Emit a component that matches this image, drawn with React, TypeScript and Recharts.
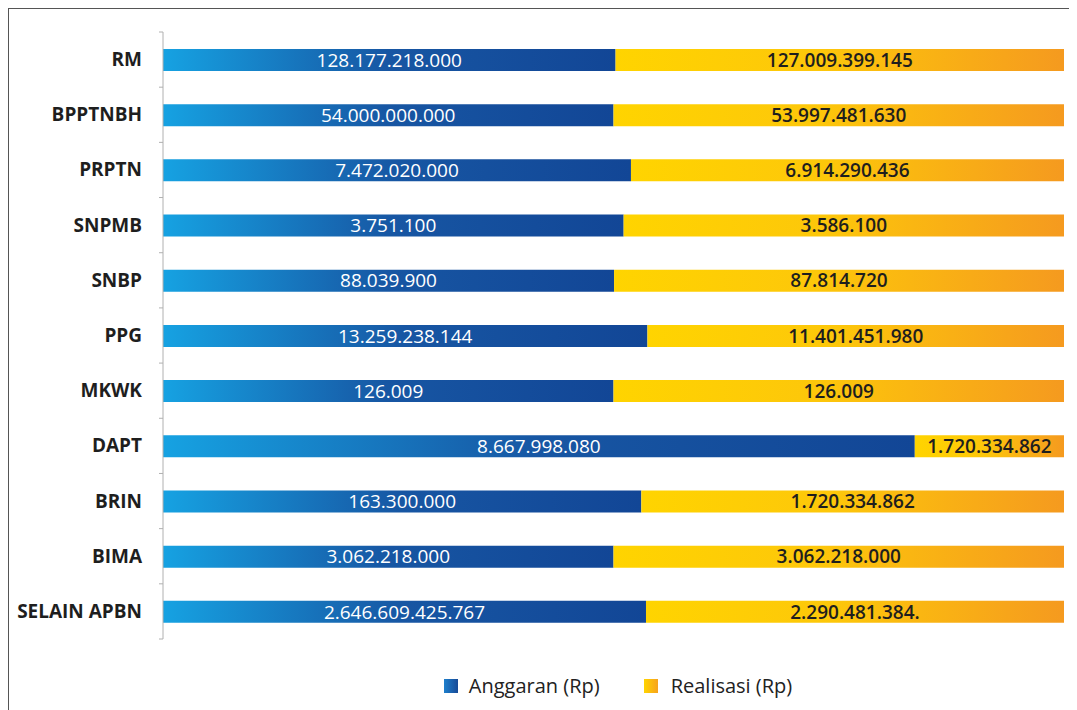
import React from "react";
import { BarChart, Bar, XAxis, YAxis, Legend, LabelList } from "recharts";

const categories = ["RM", "BPPTNBH", "PRPTN", "SNPMB", "SNBP", "PPG", "MKWK", "DAPT", "BRIN", "BIMA", "SELAIN APBN"];
const anggaran = [128177218000, 54000000000, 7472020000, 3751100, 88039900, 13259238144, 126009, 8667998080, 163300000, 3062218000, 2646609425767];
const realisasi = [127009399145, 53997481630, 6914290436, 3586100, 87814720, 11401451980, 126009, 1720334862, 144300000, 3062218000, 2290481384000];
const anggaranLabels = ["128.177.218.000", "54.000.000.000", "7.472.020.000", "3.751.100", "88.039.900", "13.259.238.144", "126.009", "8.667.998.080", "163.300.000", "3.062.218.000", "2.646.609.425.767"];
const realisasiLabels = ["127.009.399.145", "53.997.481.630", "6.914.290.436", "3.586.100", "87.814.720", "11.401.451.980", "126.009", "1.720.334.862", "1.720.334.862", "3.062.218.000", "2.290.481.384."];
const seriesNames = ["Anggaran (Rp)", "Realisasi (Rp)"];

const data = categories.map((name, i) => ({
  name,
  anggaran: anggaran[i],
  realisasi: realisasi[i],
  aLabel: anggaranLabels[i],
  rLabel: realisasiLabels[i],
}));

const FONT = "'Open Sans', sans-serif";

const CategoryTick = (props: any) => {
  const { x, y, payload, index } = props;
  const half = payload && typeof payload.offset === "number" ? payload.offset : 0;
  const axisX = x + 21;
  return (
    <g>
      <line x1={axisX - 4} x2={axisX} y1={y - half} y2={y - half} stroke="#b0b0b0" strokeWidth={1} />
      {index === categories.length - 1 && (
        <line x1={axisX - 4} x2={axisX} y1={y + half} y2={y + half} stroke="#b0b0b0" strokeWidth={1} />
      )}
      <text x={x} y={y} dy={6.5} textAnchor="end" fill="#1e1e1e" fontFamily={FONT} fontWeight={700} fontSize={19}>
        {payload.value}
      </text>
    </g>
  );
};

const LegendContent = () => (
  <div style={{ height: 60, paddingTop: 34, boxSizing: "border-box", display: "flex", justifyContent: "center", alignItems: "center", fontFamily: FONT, fontSize: 20, color: "#222" }}>
    <div style={{ display: "flex", alignItems: "center", height: 20 }}>
      <span style={{ width: 14, height: 14, background: "linear-gradient(to right, #1e7fcc, #174a97)", display: "inline-block", marginRight: 11 }} />
      <span>{seriesNames[0]}</span>
    </div>
    <div style={{ display: "flex", alignItems: "center", height: 20, marginLeft: 44 }}>
      <span style={{ width: 14, height: 14, background: "linear-gradient(to right, #ffd400, #f7a21e)", display: "inline-block", marginRight: 13 }} />
      <span>{seriesNames[1]}</span>
    </div>
  </div>
);

export default function App() {
  return (
    <div style={{ position: "relative", width: 1069, height: 702, borderTop: "1.5px solid #555", borderLeft: "1.5px solid #555", boxSizing: "border-box", background: "#fff" }}>
      <div style={{ position: "absolute", left: -1.5, top: -1.5 }}>
        <BarChart
          width={1061}
          height={694}
          data={data}
          layout="vertical"
          stackOffset="expand"
          margin={{ top: 24, right: 5, bottom: 3, left: 0 }}
          barSize={22}
        >
          <defs>
            <linearGradient id="gradBlue" x1="0" y1="0" x2="1" y2="0">
              <stop offset="0%" stopColor="#16a2e2" />
              <stop offset="50%" stopColor="#1756a3" />
              <stop offset="100%" stopColor="#124696" />
            </linearGradient>
            <linearGradient id="gradYellow" x1="0" y1="0" x2="1" y2="0">
              <stop offset="0%" stopColor="#ffd400" />
              <stop offset="45%" stopColor="#fdc70a" />
              <stop offset="100%" stopColor="#f59a1f" />
            </linearGradient>
          </defs>
          <XAxis type="number" hide domain={[0, 1]} />
          <YAxis
            type="category"
            dataKey="name"
            width={155}
            axisLine={{ stroke: "#b0b0b0", strokeWidth: 1 }}
            tickLine={false}
            tick={<CategoryTick />}
            tickSize={6}
            tickMargin={15}
            interval={0}
          />
          <Legend content={<LegendContent />} wrapperStyle={{ left: 160, width: 901 }} verticalAlign="bottom" />
          <Bar dataKey="anggaran" name={seriesNames[0]} stackId="a" fill="url(#gradBlue)" isAnimationActive={false}>
            <LabelList dataKey="aLabel" position="center" fill="#ffffff" fontFamily={FONT} fontWeight={500} fontSize={19} />
          </Bar>
          <Bar dataKey="realisasi" name={seriesNames[1]} stackId="a" fill="url(#gradYellow)" isAnimationActive={false}>
            <LabelList dataKey="rLabel" position="center" fill="#1e1e1e" fontFamily={FONT} fontWeight={600} fontSize={19} />
          </Bar>
        </BarChart>
      </div>
    </div>
  );
}
